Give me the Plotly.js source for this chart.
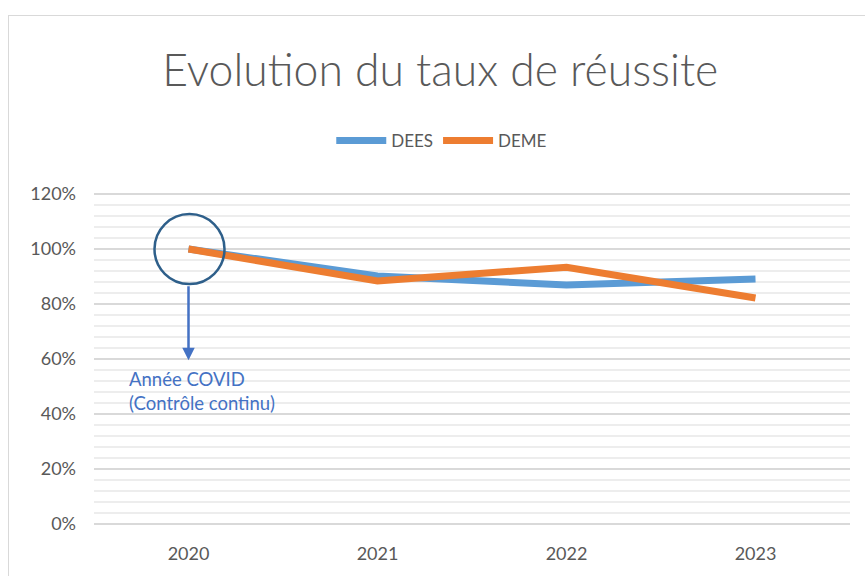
<!DOCTYPE html>
<html>
<head>
<meta charset="utf-8">
<script src="https://cdn.plot.ly/plotly-3.0.1.min.js"></script>
<style>
  html, body { margin: 0; padding: 0; background: #ffffff; }
  #chart { width: 865px; height: 576px; }
  #frame { position: absolute; left: 8px; top: 15px; width: 880px; height: 600px;
           border: 1.5px solid #D9D9D9; pointer-events: none; box-sizing: border-box; }
</style>
</head>
<body>
<div id="chart"></div>
<div id="frame"></div>
<script>
const years = ['2020', '2021', '2022', '2023'];
const dees = [100, 90.2, 86.9, 89.1];
const deme = [100, 88.4, 93.4, 82.2];
const yTicks = [0, 20, 40, 60, 80, 100, 120];
const yTickText = yTicks.map(v => v + '%');

const font = 'Lato, "Open Sans", sans-serif';

const traces = [
  { x: years, y: dees, name: 'DEES', type: 'scatter', mode: 'lines',
    line: { color: '#5B9BD5', width: 7 } },
  { x: years, y: deme, name: 'DEME', type: 'scatter', mode: 'lines',
    line: { color: '#ED7D31', width: 7 } }
];

const layout = {
  width: 865, height: 576,
  margin: { l: 94, r: 15, t: 193, b: 51 },
  paper_bgcolor: 'rgba(0,0,0,0)', plot_bgcolor: '#ffffff',
  font: { family: font, color: '#595959', size: 16 },
  title: { text: 'Evolution du taux de réussite', font: { family: font, size: 44.5, color: '#595959', weight: 300 },
           x: 0.509, xanchor: 'center', yref: 'container', y: 1 - 70/576, yanchor: 'middle' },
  showlegend: true,
  legend: { orientation: 'h', x: 0.46, xanchor: 'center', yref: 'container', y: 1 - 141/576, yanchor: 'middle',
            font: { family: font, size: 17, color: '#595959' }, itemwidth: 50, traceorder: 'normal' },
  xaxis: { type: 'category', range: [-0.5, 3.5], showgrid: false, zeroline: false, showline: false,
           ticks: '', ticklabelstandoff: 16, tickfont: { size: 18, color: '#595959' }, fixedrange: true },
  yaxis: { range: [-0.4, 120.4], tickmode: 'array', tickvals: yTicks, ticktext: yTickText,
           showline: false, zeroline: false,
           gridcolor: '#D9D9D9', gridwidth: 2, ticks: '', ticklabelstandoff: 17,
           tickfont: { size: 18, color: '#595959' },
           minor: { dtick: 4, tick0: 0, showgrid: true, gridcolor: '#EDEDED', gridwidth: 2, ticks: '' } },
  shapes: [
    { type: 'circle', xref: 'x', yref: 'y', xsizemode: 'pixel', ysizemode: 'pixel',
      xanchor: 0, yanchor: 100, x0: -34, x1: 36, y0: -35, y1: 35,
      line: { color: '#2E5F8A', width: 2.5 }, layer: 'above' }
  ],
  annotations: [
    { x: 0, y: 59.5, ax: 0, ay: 87, xref: 'x', yref: 'y', axref: 'x', ayref: 'y', text: '',
      showarrow: true, arrowhead: 2, arrowsize: 1, arrowwidth: 2.5, arrowcolor: '#4472C4' },
    { x: -0.325, y: 57.5, xref: 'x', yref: 'y', xanchor: 'left', yanchor: 'top', align: 'left',
      text: 'Année COVID<br>(Contrôle continu)', showarrow: false,
      font: { family: font, size: 18.5, color: '#4472C4' } }
  ]
};

Plotly.newPlot('chart', traces, layout, { displayModeBar: false, staticPlot: true });
</script>
</body>
</html>
